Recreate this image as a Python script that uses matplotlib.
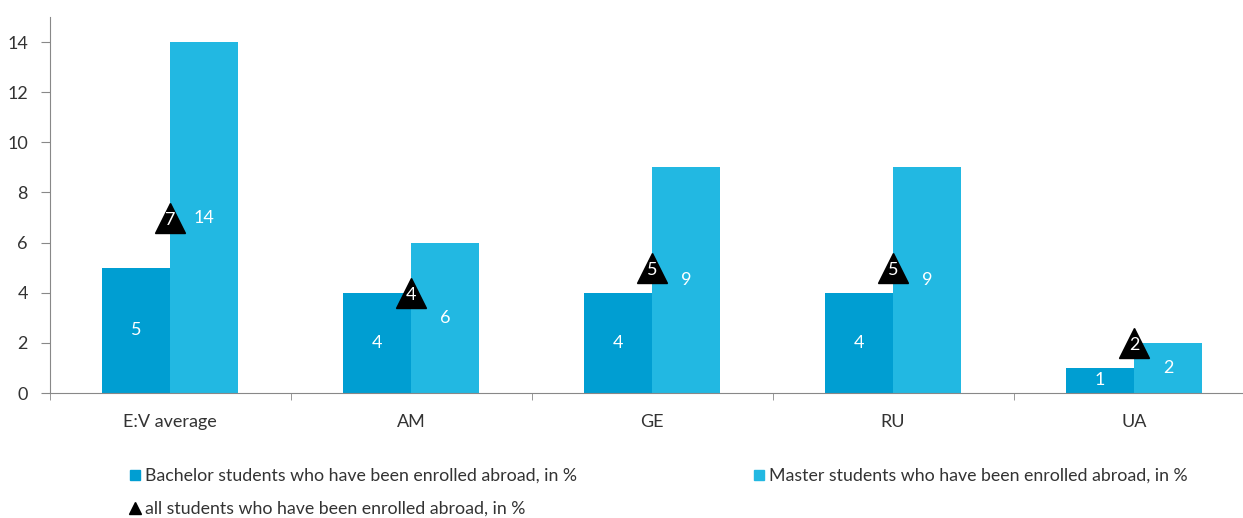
import matplotlib.pyplot as plt
import numpy as np
from matplotlib.lines import Line2D

categories = ['E:V average', 'AM', 'GE', 'RU', 'UA']
bachelor = [5, 4, 4, 4, 1]
master = [14, 6, 9, 9, 2]
all_students = [7, 4, 5, 5, 2]

c_bach = '#009ED2'
c_master = '#22B8E2'
plt.rcParams['font.family'] = ['Lato', 'DejaVu Sans']

fig = plt.figure(figsize=(12.43, 5.18), dpi=100)
ax = fig.add_axes([49.5/1243, 1 - 393/518, 1 - 49.5/1243, 376/518])

x = np.arange(len(categories))
w = 0.284
ax.bar(x - w/2, bachelor, w, color=c_bach)
ax.bar(x + w/2, master, w, color=c_master)

for xi, b, m in zip(x, bachelor, master):
    ax.text(xi - w/2, b/2, str(b), ha='center', va='center', color='white', fontsize=13)
    ax.text(xi + w/2, m/2, str(m), ha='center', va='center', color='white', fontsize=13)

ax.plot(x, all_students, linestyle='none', marker='^', markersize=22, color='black')
for xi, a in zip(x, all_students):
    ax.text(xi, a - 0.1, str(a), ha='center', va='center', color='white', fontsize=13)

ax.set_yticks(range(0, 15, 2))
ax.set_xticks(x)
ax.set_xticklabels(categories, fontsize=13, color='#333333')
ax.set_xticks(np.arange(-0.5, 5, 1), minor=True)
# limits after the ticks, otherwise the minor tick at 4.5 widens the view
ax.set_xlim(-0.5, -0.5 + (1243 - 49.5) / 241)
ax.set_ylim(0, 15)
ax.tick_params(axis='x', which='major', length=0, pad=15)
ax.tick_params(axis='x', which='minor', length=5, color='#888888')
ax.tick_params(axis='y', length=6.5, pad=9, color='#888888', labelsize=13, labelcolor='#333333')
for s in ['top', 'right']:
    ax.spines[s].set_visible(False)
ax.spines['left'].set_color('#888888')
ax.spines['bottom'].set_color('#888888')

h_bach = Line2D([], [], linestyle='none', marker='s', markersize=6.5, color=c_bach)
h_master = Line2D([], [], linestyle='none', marker='s', markersize=6.5, color=c_master)
h_all = Line2D([], [], linestyle='none', marker='^', markersize=8, color='black')
kw = dict(frameon=False, fontsize=12.8, handletextpad=0.1, handlelength=0.9,
          borderaxespad=0, borderpad=0, labelcolor='#333333')
fig.legend([h_bach], ['Bachelor students who have been enrolled abroad, in %'],
           loc='center left', bbox_to_anchor=(127/1243, 1 - 476/518), **kw)
fig.legend([h_master], ['Master students who have been enrolled abroad, in %'],
           loc='center left', bbox_to_anchor=(751/1243, 1 - 476/518), **kw)
fig.legend([h_all], ['all students who have been enrolled abroad, in %'],
           loc='center left', bbox_to_anchor=(127/1243, 1 - 509/518), **kw)

fig.savefig('out.png', dpi=100)
